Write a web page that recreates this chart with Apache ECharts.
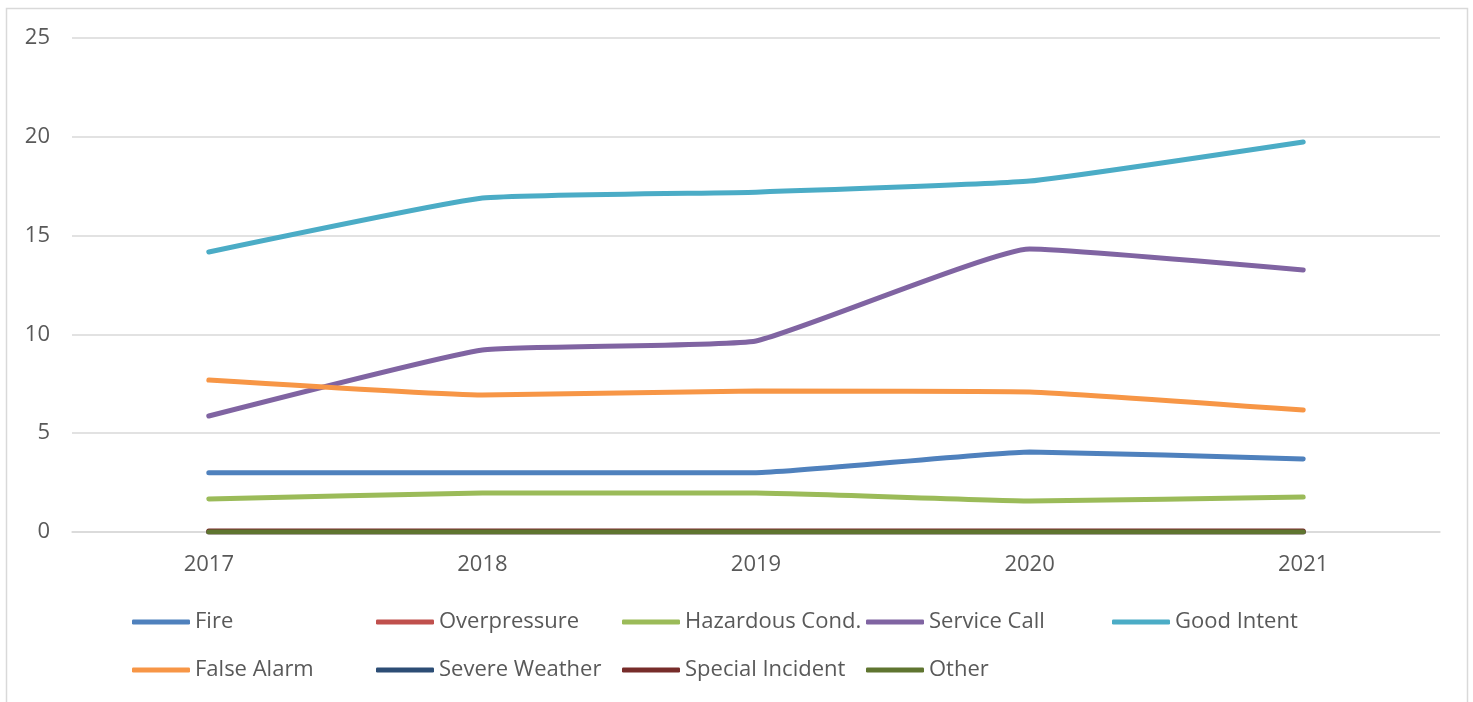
<!DOCTYPE html>
<html>
<head>
<meta charset="utf-8">
<script src="https://cdn.jsdelivr.net/npm/echarts@6/dist/echarts.min.js"></script>
<style>
html,body{margin:0;padding:0;background:#fff;}
#c{width:1473px;height:702px;}
</style>
</head>
<body>
<div id="c"></div>
<script>
const categories = ['2017','2018','2019','2020','2021'];
const seriesNames = ['Fire','Overpressure','Hazardous Cond.','Service Call','Good Intent','False Alarm','Severe Weather','Special Incident','Other'];
const fire = [3.0, 3.0, 3.0, 4.05, 3.7];
const overpressure = [0, 0, 0, 0, 0];
const hazardous = [1.67, 1.97, 1.97, 1.57, 1.77];
const serviceCall = [5.87, 9.21, 9.67, 14.32, 13.26];
const goodIntent = [14.17, 16.9, 17.2, 17.76, 19.74];
const falseAlarm = [7.69, 6.93, 7.14, 7.09, 6.17];
const severeWeather = [0, 0, 0, 0, 0];
const specialIncident = [0.05, 0.05, 0.05, 0.05, 0.05];
const other = [0, 0, 0, 0, 0];
const yTicks = [0, 5, 10, 15, 20, 25];

const values = [fire, overpressure, hazardous, serviceCall, goodIntent, falseAlarm, severeWeather, specialIncident, other];
const colors = ['#4F81BD','#C0504D','#9BBB59','#8064A2','#4BACC6','#F79646','#2C4D75','#772C2A','#5F7530'];

const legendPos = [
  [132,611],[376,611],[622,611],[866,611],[1112,611],
  [132,659],[376,659],[622,659],[866,659]
];

const chart = echarts.init(document.getElementById('c'));
chart.setOption({
  backgroundColor:'#fff',
  animation:false,
  grid:{left:72,right:33,top:38,bottom:170},
  graphic:[{type:'rect',shape:{x:6.5,y:8.5,width:1461,height:700},style:{fill:'none',stroke:'#D9D9D9',lineWidth:1.5},silent:true}],
  legend: seriesNames.map((n,i)=>({
    data:[n], left:legendPos[i][0], top:legendPos[i][1],
    icon:'roundRect', itemWidth:58, itemHeight:5, itemGap:0,
    padding:0,
    textStyle:{color:'#595959',fontSize:22,fontFamily:'Open Sans'}
  })),
  xAxis:{
    type:'category', data:categories, boundaryGap:true,
    axisLine:{show:true,lineStyle:{color:'#D9D9D9',width:1.5}},
    axisTick:{show:false},
    axisLabel:{color:'#595959',fontSize:22,fontFamily:'Open Sans',margin:22}
  },
  yAxis:{
    type:'value', min:yTicks[0], max:yTicks[yTicks.length-1], interval:5,
    axisLine:{show:false}, axisTick:{show:false},
    splitLine:{lineStyle:{color:'#D9D9D9',width:1.5}},
    axisLabel:{color:'#595959',fontSize:22,fontFamily:'Open Sans',margin:22}
  },
  series: seriesNames.map((n,i)=>({
    name:n, type:'line', data:values[i], smooth:0.12,
    showSymbol:false, symbol:'none',
    lineStyle:{color:colors[i],width:5,cap:'round'},
    itemStyle:{color:colors[i]}
  }))
});
</script>
</body>
</html>
